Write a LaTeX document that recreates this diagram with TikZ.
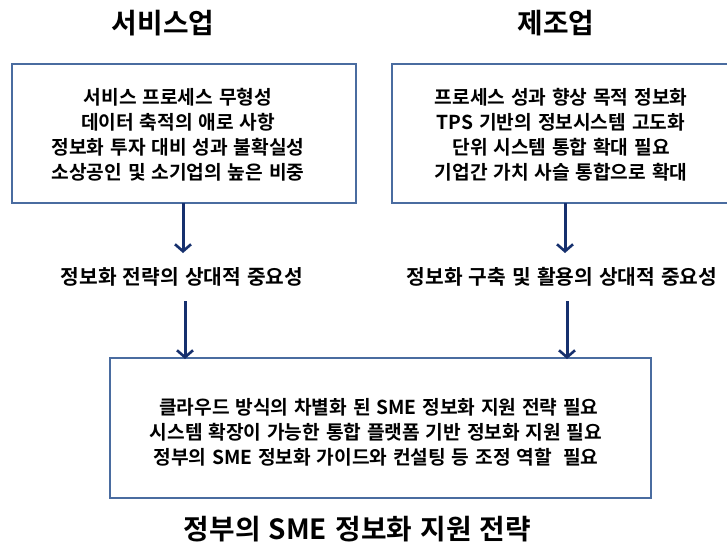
\documentclass[tikz,border=0pt]{standalone}
\usepackage{fontspec}
\usetikzlibrary{arrows.meta}
\newfontfamily\kr{Noto Sans CJK KR}[BoldFont={Noto Sans CJK KR Bold}]
\definecolor{boxblue}{RGB}{74,108,160}
\definecolor{arrnavy}{RGB}{22,48,110}
\tikzset{
  titletext/.style={font={\kr\bfseries\fontsize{27.8}{32}\selectfont\spaceskip=0.3em}, inner sep=0pt},
  bodytext/.style={font={\kr\bfseries\fontsize{19.2}{25}\selectfont\spaceskip=0.3em}, align=center, inner sep=0pt},
  labeltext/.style={font={\kr\bfseries\fontsize{20.3}{25}\selectfont\spaceskip=0.3em}, inner sep=0pt},
  framebox/.style={draw=boxblue, line width=2pt, fill=none, inner sep=0pt},
  downarrow/.style={draw=arrnavy, line width=3pt, -{Straight Barb[length=7pt,width=16pt,line width=2.6pt]}}
}
\begin{document}
\begin{tikzpicture}[x=1pt,y=-1pt]
\useasboundingbox (0,0) rectangle (727,547);
\clip (0,0) rectangle (727,547);
\fill[white] (0,0) rectangle (727,547);

% titles
\node[titletext] (t1) at (163,23) {서비스업};
\node[titletext] (t2) at (556,23) {제조업};

% boxes
\node[framebox, minimum width=344pt, minimum height=139pt] (lbox) at (184,133.5) {};
\node[framebox, minimum width=360pt, minimum height=139pt] (rbox) at (572,133.5) {};
\node[framebox, minimum width=541pt, minimum height=140pt] (bbox) at (380.5,428) {};

% box texts
\node[bodytext] (ltext) at (178,134.5) {서비스 프로세스 무형성\\데이터 축적의 애로 사항\\정보화 투자 대비 성과 불확실성\\소상공인 및 소기업의 높은 비중};
\node[bodytext] (rtext) at (561,134.5) {프로세스 성과 향상 목적 정보화\\TPS 기반의 정보시스템 고도화\\단위 시스템 통합 확대 필요\\기업간 가치 사슬 통합으로 확대};
\node[bodytext] (btext) at (376,432) {\ 클라우드 방식의 차별화 된 SME 정보화 지원 전략 필요\\시스템 확장이 가능한 통합 플랫폼 기반 정보화 지원 필요\\정부의 SME 정보화 가이드와 컨설팅 등 조정 역할\ \ 필요};

% middle labels
\node[labeltext] (m1) at (182,277) {정보화 전략의 상대적 중요성};
\node[labeltext] (m2) at (562,277) {정보화 구축 및 활용의 상대적 중요성};

% bottom title
\node[titletext] (t3) at (357.5,529) {정부의 SME 정보화 지원 전략};

% arrow coordinates
\coordinate (a1s) at (183,203);
\coordinate (a1e) at (183,253);
\coordinate (a2s) at (565,203);
\coordinate (a2e) at (565,253);
\coordinate (a3s) at (185,301);
\coordinate (a3e) at (185,359);
\coordinate (a4s) at (567,301);
\coordinate (a4e) at (567,359);

\draw[downarrow] (a1s) -- (a1e);
\draw[downarrow] (a2s) -- (a2e);
\draw[downarrow] (a3s) -- (a3e);
\draw[downarrow] (a4s) -- (a4e);
\end{tikzpicture}
\end{document}
